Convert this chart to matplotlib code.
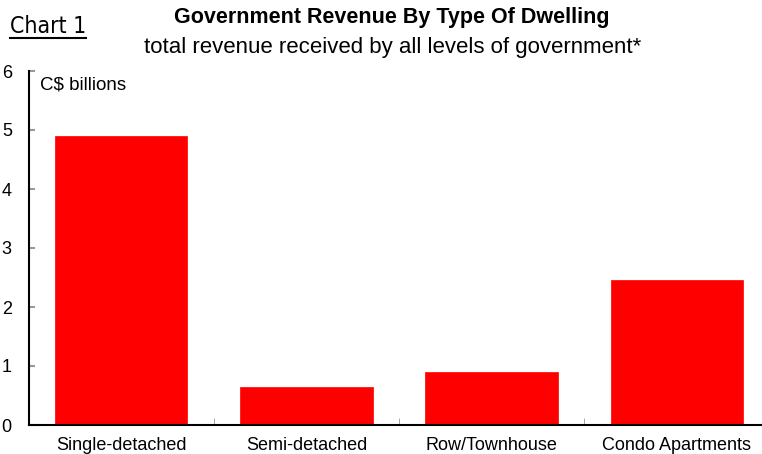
import matplotlib
matplotlib.use("Agg")
import matplotlib.pyplot as plt
import numpy as np

categories = ["Single-detached", "Semi-detached", "Row/Townhouse", "Condo Apartments"]
values = [4.90, 0.64, 0.90, 2.46]
yticks = [0, 1, 2, 3, 4, 5, 6]

plt.rcParams['font.family'] = ['Liberation Sans', 'DejaVu Sans']

fig = plt.figure(figsize=(7.62, 4.54), dpi=100)
ax = fig.add_axes([28.5/762, 1 - 425/454, (769.5 - 28.5)/762, (425 - 71)/454])

x = np.arange(len(categories))
ax.bar(x, values, width=0.715, color='#ff0000', edgecolor='#ff0000', linewidth=0.5)
ax.set_xlim(-0.5, len(categories) - 0.5)
ax.set_ylim(0, 6)
ax.set_yticks(yticks)
ax.set_yticklabels([str(t) for t in yticks], fontsize=13)
ax.tick_params(axis='y', direction='in', length=4, color='#999999', width=1.5)
ax.set_xticks(x)
ax.set_xticklabels(categories, fontsize=13)
ax.tick_params(axis='x', length=0, pad=9)
ax.set_xticks(np.arange(0.5, len(categories) - 0.5, 1), minor=True)
ax.tick_params(axis='x', which='minor', direction='in', length=5, color='#999999')
ax.yaxis.set_tick_params(pad=12)
for s in ['top', 'right']:
    ax.spines[s].set_visible(False)
ax.spines['left'].set_linewidth(1.5)
ax.spines['bottom'].set_linewidth(1.5)

ax.text(11.5/741, 0.985, "C$ billions", transform=ax.transAxes, fontsize=13.5, va='top', ha='left')

fig.text(392/762, 1 - 18/454, "Government Revenue By Type Of Dwelling", ha='center', va='center',
         fontsize=15.5, fontweight='bold')
fig.text(393/762, 1 - 47/454, "total revenue received by all levels of government*", ha='center', va='center',
         fontsize=16)
t = fig.text(10/762, 1 - 33/454, "Chart 1", ha='left', va='baseline', fontsize=16.5,
             family=['DejaVu Sans'], fontstretch='condensed')
fig.add_artist(plt.Line2D([10/762, 86/762], [1 - 37.5/454, 1 - 37.5/454], color='black', linewidth=1.5,
                          transform=fig.transFigure))

fig.savefig("out.png", dpi=100)
